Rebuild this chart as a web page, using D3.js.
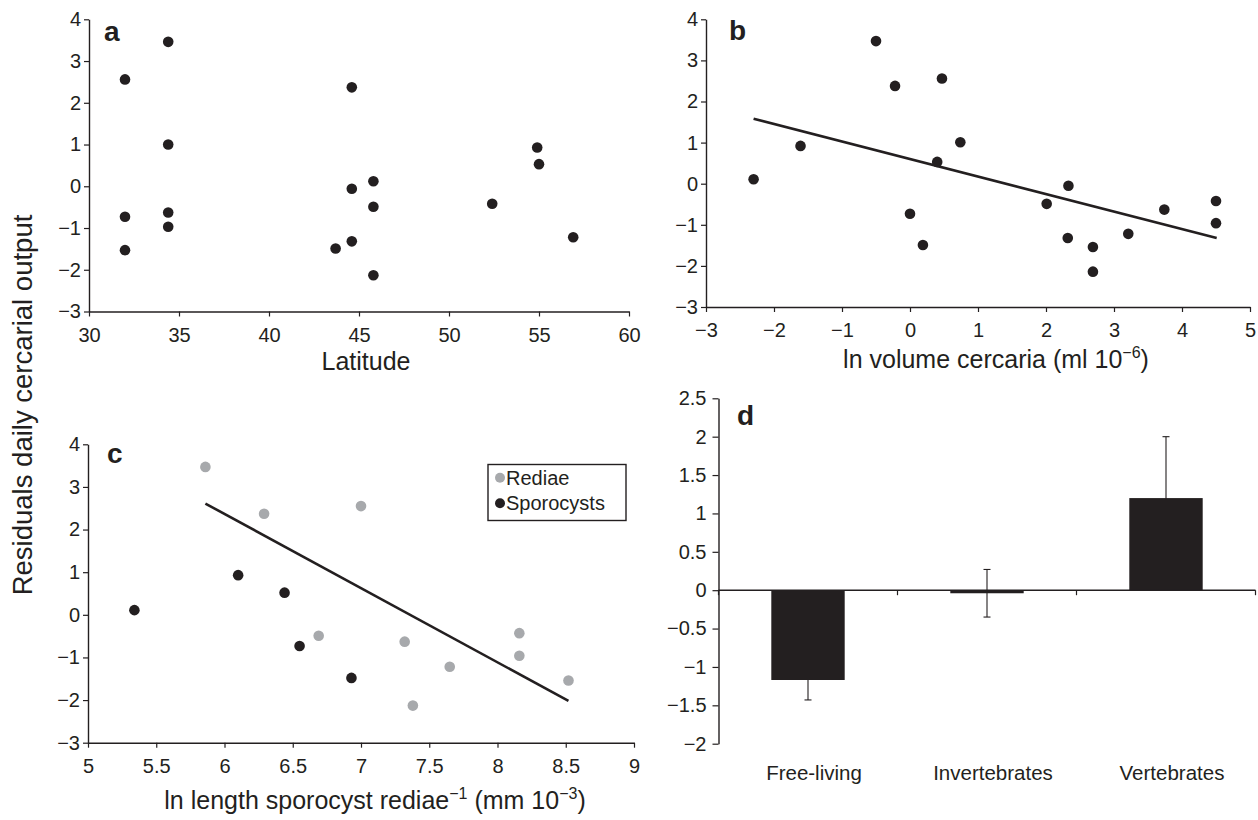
<!DOCTYPE html>
<html><head><meta charset="utf-8">
<script src="https://cdn.jsdelivr.net/npm/d3@7"></script>
<style>
body{margin:0;background:#fff}
text{font-family:"Liberation Sans",Arial,Helvetica,sans-serif;fill:#231f20}
</style>
</head><body>
<svg id="chart" width="1258" height="820"></svg>
<script>
// ---- Panel a: latitude vs residuals
const latitude = [32.0,34.4,32.0,32.0,34.4,34.4,34.4,44.6,44.6,45.8,45.8,44.6,43.7,45.8,52.4,54.9,55.0,56.9];
const residA   = [2.56,3.46,-0.73,-1.53,1.00,-0.63,-0.97,2.37,-0.06,0.12,-0.49,-1.32,-1.49,-2.13,-0.42,0.93,0.53,-1.22];
const ticksA_x = [30,35,40,45,50,55,60];
// ---- Panel b: ln volume cercaria vs residuals
const volume   = [-2.30,-1.61,-0.50,-0.22,0.47,0.74,0.40,0.00,0.19,2.01,2.33,2.32,2.69,2.69,3.21,3.74,4.50,4.50];
const residB   = [0.11,0.92,3.47,2.38,2.56,1.01,0.53,-0.73,-1.49,-0.49,-0.05,-1.32,-1.54,-2.14,-1.22,-0.63,-0.42,-0.96];
const fitB_x   = [-2.30,4.51];
const fitB_y   = [1.58,-1.32];
const ticksB_x = [-3,-2,-1,0,1,2,3,4,5];
// ---- Panel c: ln length sporocyst/rediae vs residuals
const rediaeX  = [5.86,6.29,7.00,6.69,7.32,7.65,7.38,8.16,8.16,8.52];
const rediaeY  = [3.47,2.37,2.55,-0.49,-0.63,-1.22,-2.13,-0.43,-0.96,-1.54];
const sporoX   = [5.34,6.10,6.44,6.55,6.93];
const sporoY   = [0.11,0.93,0.52,-0.73,-1.48];
const fitC_x   = [5.86,8.52];
const fitC_y   = [2.61,-2.02];
const ticksC_x = [5,5.5,6,6.5,7,7.5,8,8.5,9];
const legendC  = ["Rediae","Sporocysts"];
// common y ticks for scatter panels
const ticksY   = [-3,-2,-1,0,1,2,3,4];
// ---- Panel d: host type bars
const hostGroups = ["Free-living","Invertebrates","Vertebrates"];
const hostMeans  = [-1.17,-0.04,1.20];
const hostSE     = [0.26,0.31,0.80];
const ticksD_y   = [-2,-1.5,-1,-0.5,0,0.5,1,1.5,2,2.5];

const INK = "#231f20", GREY = "#a7a9ac";
const TICK_FS = 20;
const svg = d3.select("#chart");
const fmt = d => String(d).replace("-", "\u2212");

function styleAxis(g, fs){
  g.selectAll("path.domain").attr("stroke", INK).attr("stroke-width", 1.4);
  g.selectAll(".tick line").attr("stroke", INK).attr("stroke-width", 1.2);
  g.selectAll(".tick text").attr("fill", INK).style("font-size", fs+"px")
    .style("font-family", '"Liberation Sans",Arial,sans-serif');
}

function scatterPanel(o){
  const x = d3.scaleLinear().domain(o.xd).range(o.xr);
  const y = d3.scaleLinear().domain(o.yd).range(o.yr);
  const g = svg.append("g");
  const gy = g.append("g").attr("transform", `translate(${o.xr[0]},0)`)
    .call(d3.axisLeft(y).tickValues(ticksY).tickFormat(fmt).tickSize(5).tickSizeOuter(0).tickPadding(3));
  styleAxis(gy, TICK_FS);
  const gx = g.append("g").attr("transform", `translate(0,${o.yr[0]})`)
    .call(d3.axisBottom(x).tickValues(o.xt).tickFormat(fmt).tickSize(5).tickSizeOuter(0).tickPadding(11));
  styleAxis(gx, TICK_FS);
  if (o.fit){
    g.append("line")
      .attr("x1", x(o.fit[0][0])).attr("y1", y(o.fit[1][0]))
      .attr("x2", x(o.fit[0][1])).attr("y2", y(o.fit[1][1]))
      .attr("stroke", INK).attr("stroke-width", 2.6);
  }
  o.series.forEach(s => {
    g.selectAll(null).data(s.x.map((v,i)=>[v,s.y[i]])).enter().append("circle")
      .attr("cx", d=>x(d[0])).attr("cy", d=>y(d[1])).attr("r", 5.3).attr("fill", s.color);
  });
  g.append("text").attr("x", o.lab[0]).attr("y", o.lab[1]).text(o.letter)
    .style("font-size","28px").style("font-weight","bold");
  const t = g.append("text").attr("x", o.title[0]).attr("y", o.title[1])
    .attr("text-anchor","middle").style("font-size","25px");
  o.titleParts.forEach(p => {
    const ts = t.append("tspan").text(p.t);
    if (p.sup) ts.attr("dy", -10).style("font-size","16px");
    if (p.down) ts.attr("dy", 10);
  });
  return {x, y, g};
}

// Panel a
scatterPanel({
  xd:[30,60], xr:[89,629], yd:[-3,4], yr:[311.5,19.3], xt:ticksA_x,
  series:[{x:latitude, y:residA, color:INK}],
  letter:"a", lab:[104,40.5], title:[366,370],
  titleParts:[{t:"Latitude"}]
});
// Panel b
scatterPanel({
  xd:[-3,5], xr:[706,1250], yd:[-3,4], yr:[307,19.3], xt:ticksB_x,
  series:[{x:volume, y:residB, color:INK}], fit:[fitB_x, fitB_y],
  letter:"b", lab:[729,40], title:[996,368],
  titleParts:[{t:"ln volume cercaria (ml 10"},{t:"\u22126",sup:true},{t:")",down:true}]
});
// Panel c
const pc = scatterPanel({
  xd:[5,9], xr:[88,634], yd:[-3,4], yr:[742.7,444.3], xt:ticksC_x,
  series:[{x:rediaeX, y:rediaeY, color:GREY},{x:sporoX, y:sporoY, color:INK}], fit:[fitC_x, fitC_y],
  letter:"c", lab:[107,463], title:[375,809],
  titleParts:[{t:"ln length sporocyst rediae"},{t:"\u22121",sup:true},{t:" (mm 10",down:true},{t:"\u22123",sup:true},{t:")",down:true}]
});
// legend panel c
const lg = pc.g.append("g");
lg.append("rect").attr("x",488).attr("y",464.5).attr("width",138).attr("height",56)
  .attr("fill","#fff").attr("stroke",INK).attr("stroke-width",1.4);
legendC.forEach((name,i)=>{
  lg.append("circle").attr("cx",500).attr("cy",477.7+i*25.6).attr("r",5).attr("fill", i===0?GREY:INK);
  lg.append("text").attr("x",506).attr("y",484.5+i*25.6).text(name).style("font-size","20px");
});

// Panel d
(function(){
  const xr = [718.5,1255.5];
  const x = d3.scaleBand().domain(hostGroups).range(xr).paddingInner(0).paddingOuter(0);
  const y = d3.scaleLinear().domain([-2,2.5]).range([743.7,398.3]);
  const g = svg.append("g");
  const bw = x.bandwidth()*0.41;
  // error bars
  hostGroups.forEach((h,i)=>{
    const cx = x(h)+x.bandwidth()/2;
    const lo = y(hostMeans[i]-hostSE[i]), hi = y(hostMeans[i]+hostSE[i]);
    g.append("line").attr("x1",cx).attr("x2",cx).attr("y1",lo).attr("y2",hi).attr("stroke",INK).attr("stroke-width",1.1);
    [lo,hi].forEach(v=>g.append("line").attr("x1",cx-3.5).attr("x2",cx+3.5).attr("y1",v).attr("y2",v).attr("stroke",INK).attr("stroke-width",1.1));
  });
  g.selectAll("rect.bar").data(hostGroups).enter().append("rect").attr("class","bar")
    .attr("x", d=>x(d)+x.bandwidth()/2-bw/2).attr("width", bw)
    .attr("y", (d,i)=>y(Math.max(0,hostMeans[i])))
    .attr("height", (d,i)=>Math.abs(y(hostMeans[i])-y(0)))
    .attr("fill", INK);
  const gy = g.append("g").attr("transform",`translate(${xr[0]},0)`)
    .call(d3.axisLeft(y).tickValues(ticksD_y).tickFormat(fmt).tickSize(6).tickSizeOuter(0).tickPadding(6));
  styleAxis(gy, TICK_FS);
  // category axis along zero
  g.append("line").attr("x1",xr[0]).attr("x2",xr[1]).attr("y1",y(0)).attr("y2",y(0)).attr("stroke",INK).attr("stroke-width",1.4);
  const bounds = hostGroups.map(h=>x(h)).concat([xr[1]]);
  g.selectAll("line.ct").data(bounds).enter().append("line").attr("class","ct")
    .attr("x1",d=>d).attr("x2",d=>d).attr("y1",y(0)).attr("y2",y(0)+5).attr("stroke",INK).attr("stroke-width",1.2);
  g.selectAll("text.cat").data(hostGroups).enter().append("text").attr("class","cat")
    .attr("x", d=>x(d)+x.bandwidth()/2+6).attr("y", 780).attr("text-anchor","middle")
    .style("font-size","20.5px").text(d=>d);
  g.append("text").attr("x",737).attr("y",425).text("d").style("font-size","28px").style("font-weight","bold");
})();

// shared y-axis title
svg.append("text").attr("transform","translate(32,405) rotate(-90)").attr("text-anchor","middle")
  .style("font-size","27.5px").text("Residuals daily cercarial output");
</script>
</body></html>
